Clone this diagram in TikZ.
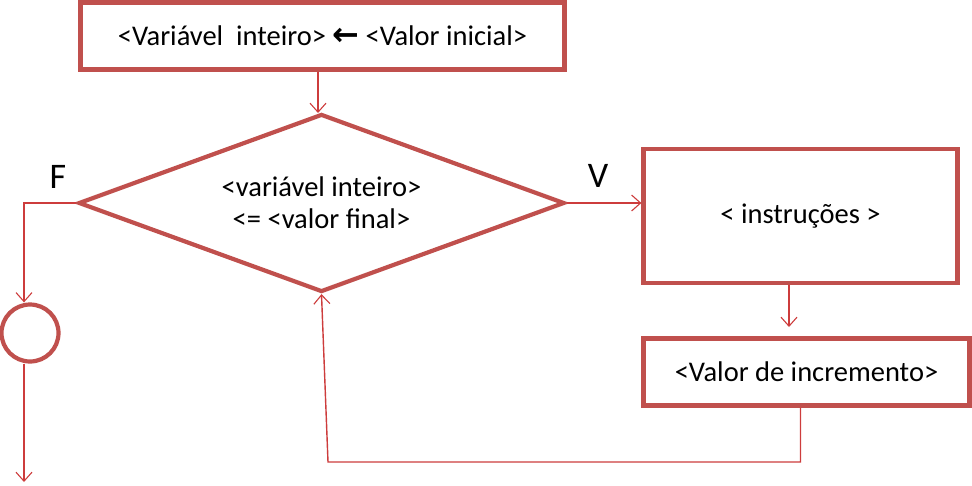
\documentclass[tikz,border=0pt]{standalone}
\usepackage{fontspec}
\setmainfont{Carlito}
\newfontfamily\arrowfont{DejaVu Sans}
\usetikzlibrary{shapes.geometric,arrows.meta}
\definecolor{boxred}{RGB}{192,80,77}
\definecolor{linered}{RGB}{205,60,60}
\tikzset{
  box/.style={draw=boxred, line width=4.2pt, fill=white, inner sep=0pt, font=\fontsize{28.5}{34}\selectfont},
  conn/.style={draw=linered, line width=1.4pt, -{Straight Barb[length=9pt,width=16pt,line width=1.1pt]}},
  lbl/.style={font=\fontsize{36}{38}\selectfont, inner sep=0pt}
}
\begin{document}
\begin{tikzpicture}[x=1pt,y=-1pt]
\useasboundingbox (0,0) rectangle (972,485);
\node[box, minimum width=484pt, minimum height=67pt] (init) at (322.5,36)
  {<Variável\ \ inteiro> {\arrowfont\bfseries\fontsize{32}{34}\selectfont ←} <Valor inicial>};
\node[box, diamond, minimum width=486pt, minimum height=178pt, aspect=2.73, align=center,
  font=\fontsize{28.5}{32}\selectfont] (cond) at (321.5,203)
  {<variável inteiro>\\<= <valor final>};
\node[box, minimum width=314pt, minimum height=134pt] (instr) at (800.5,216)
  {\raisebox{-3pt}{< instruções >}};
\node[box, minimum width=326pt, minimum height=67pt] (inc) at (806.5,372)
  {\raisebox{-2pt}{<Valor de incremento>}};
\node[box, circle, minimum size=57pt] (end) at (30,333) {};
\node[lbl] (F) at (58,177) {F};
\node[lbl] (V) at (598,176) {V};
\coordinate (out) at (24,482);
\coordinate (bl) at (328,462);
\draw[conn] (init.south -| 318,0) -- (318,113);
\draw[conn] (cond.west) -| ([xshift=-6pt]end.north);
\draw[conn] ([xshift=-6pt]end.south) -- (out);
\draw[conn] (cond.east) -- (instr.west |- cond.east);
\draw[conn] (instr.south -| 789,0) -- (789,327);
\draw[conn] ([xshift=-6pt]inc.south) |- (bl) -- (cond.south);
\end{tikzpicture}
\end{document}
